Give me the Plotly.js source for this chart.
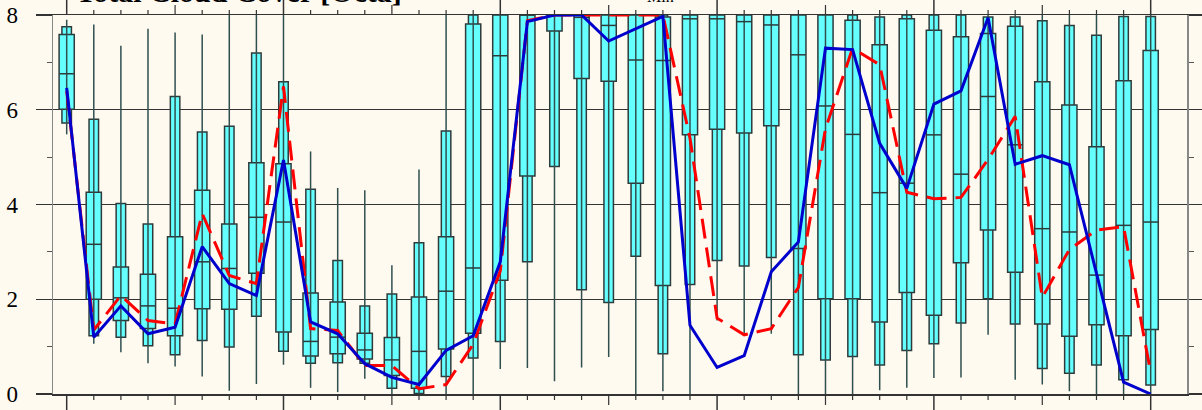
<!DOCTYPE html>
<html>
<head>
<meta charset="utf-8">
<script src="https://cdn.plot.ly/plotly-3.0.1.min.js"></script>
<style>html,body{margin:0;padding:0;background:#FFFAF0;}#chart{width:1202px;height:410px;}</style>
</head>
<body>
<div id="chart"></div>
<script>
// 3-hourly steps (index 0..40)
const steps = Array.from({length: 41}, (_, i) => i);
const pMin = [5.48,1.06,0.88,0.65,0.58,0.37,0.07,0.21,0.62,0.13,0.04,0.32,0.00,0.00,0.00,0.00,0.53,0.55,0.27,0.56,0.78,0.00,0.06,0.00,1.55,1.23,1.27,0.00,0.00,0.00,0.08,0.13,0.34,0.35,1.25,0.30,0.20,0.06,0.00,0.00,0.00];
const p10  = [5.72,1.23,1.20,1.02,0.83,1.13,0.99,1.64,0.90,0.65,0.66,0.65,0.12,0.01,0.37,0.76,1.11,2.79,4.80,2.20,1.93,2.91,0.85,2.31,2.82,2.70,2.88,0.83,0.72,0.79,0.61,0.92,1.06,1.50,2.01,1.48,0.54,0.44,0.61,0.30,0.19];
const p25  = [6.01,2.00,1.55,1.38,1.23,1.80,1.79,2.55,1.31,0.80,0.85,0.74,0.39,0.12,0.95,1.28,2.40,4.60,7.66,6.66,6.60,4.45,2.29,5.47,5.59,5.51,5.66,3.07,2.01,2.01,1.52,2.14,1.66,2.77,3.46,2.57,1.48,1.22,1.46,1.23,1.36];
const p50  = [6.76,3.16,2.03,1.86,1.81,2.79,2.65,3.73,3.63,1.11,1.20,0.93,0.72,0.90,2.17,2.66,7.14,8.00,8.00,7.95,7.78,7.05,7.04,7.92,7.92,7.86,7.79,7.16,6.08,5.48,4.25,4.45,5.47,4.64,6.28,5.26,3.49,3.42,2.51,3.56,3.63];
const p75  = [7.59,4.26,2.68,2.53,3.32,4.30,3.59,4.88,4.86,2.13,1.94,1.28,1.19,2.05,3.32,7.81,8.00,8.00,8.00,8.00,8.00,8.00,7.96,8.00,8.00,8.00,8.00,8.00,8.00,7.89,7.37,7.92,7.68,7.54,7.61,7.76,6.59,6.10,5.22,6.61,7.25];
const p90  = [7.75,5.80,4.02,3.59,6.28,5.53,5.65,7.20,6.59,4.32,2.82,1.86,2.11,3.19,5.55,8.00,8.00,8.00,8.00,8.00,8.00,8.00,8.00,8.00,8.00,8.00,8.00,8.00,8.00,8.00,7.96,8.00,8.00,8.00,7.96,7.96,7.88,7.78,7.57,7.97,7.97];
const pMax = [7.90,7.80,7.35,7.71,7.63,7.59,8.00,8.00,8.00,5.12,4.35,4.30,2.72,4.74,8.00,8.00,8.00,8.00,8.00,8.00,8.00,8.00,8.00,8.00,8.00,8.00,8.00,8.00,8.00,8.00,8.00,8.00,8.00,8.00,8.00,8.00,8.00,8.00,8.00,8.00,8.00];
const blueLine = [6.46,1.20,1.86,1.27,1.41,3.11,2.33,2.08,4.94,1.52,1.27,0.64,0.35,0.20,0.92,1.23,2.79,7.86,8.00,8.00,7.45,7.71,7.97,1.45,0.56,0.81,2.58,3.21,7.30,7.27,5.29,4.34,6.12,6.40,7.94,4.85,5.03,4.84,2.55,0.25,0.00];
const redLine  = [6.40,1.35,2.08,1.55,1.48,3.81,2.50,2.33,6.49,1.38,1.34,0.60,0.60,0.11,0.20,1.05,2.60,7.88,8.00,8.00,8.00,8.00,8.00,5.40,1.60,1.25,1.38,2.25,5.60,7.30,6.95,4.26,4.12,4.15,4.95,5.86,2.04,3.05,3.46,3.53,0.45];
const yTicks = [0, 2, 4, 6, 8];
const yTickText = ['0', '2', '4', '6', '8'];
const titleText = 'Total Cloud Cover [Octa]';
const subText = 'Min';

const NARROW = 0.35, WIDE = 0.56;
const cyan = '#66FFFF', edge = '#2E3B3B';

const wx = [], wy = [];
steps.forEach((s, i) => { wx.push(s, s, null); wy.push(pMin[i], pMax[i], null); });
const mx = [], my = [];
steps.forEach((s, i) => { mx.push(s - WIDE / 2, s + WIDE / 2, null); my.push(p50[i], p50[i], null); });

const traces = [
  {type: 'scatter', mode: 'lines', x: wx, y: wy, line: {color: '#2F4F4F', width: 1.5}, hoverinfo: 'skip'},
  {type: 'bar', x: steps, base: p10, y: steps.map((s, i) => p90[i] - p10[i]), width: NARROW,
   marker: {color: cyan, line: {color: edge, width: 1.5}}, hoverinfo: 'skip'},
  {type: 'bar', x: steps, base: p25, y: steps.map((s, i) => p75[i] - p25[i]), width: WIDE,
   marker: {color: cyan, line: {color: edge, width: 1.5}}, hoverinfo: 'skip'},
  {type: 'scatter', mode: 'lines', x: mx, y: my, line: {color: edge, width: 1.5}, hoverinfo: 'skip'},
  {type: 'scatter', mode: 'lines', x: steps, y: redLine, line: {color: '#FF0000', width: 3, dash: '20px,9px'}, cliponaxis: false},
  {type: 'scatter', mode: 'lines', x: steps, y: blueLine, line: {color: '#0000CD', width: 3}, cliponaxis: false}
];

// x-axis tick marks (bottom and top), three lengths: every step, every 12 h, every 24 h
const tickLen = (s, side) => s % 8 === 0 ? (side === 'bottom' ? 17 : 15) : s % 8 === 4 ? (side === 'bottom' ? 11 : 10) : (side === 'bottom' ? 6 : 5);
const tickShapes = [];
steps.forEach(s => {
  const w = s % 8 === 0 ? 1.5 : 1.2;
  tickShapes.push({type: 'line', xref: 'x', yref: 'paper', ysizemode: 'pixel', yanchor: 0,
    x0: s, x1: s, y0: 0, y1: -tickLen(s, 'bottom'), line: {color: '#333', width: w}});
  tickShapes.push({type: 'line', xref: 'x', yref: 'paper', ysizemode: 'pixel', yanchor: 1,
    x0: s, x1: s, y0: 0, y1: tickLen(s, 'top'), line: {color: '#333', width: w}});
});

const layout = {
  width: 1202, height: 410,
  margin: {l: 53, r: 15, t: 15, b: 16, pad: 0},
  paper_bgcolor: '#FFFAF0', plot_bgcolor: '#FFFAF0',
  showlegend: false, barmode: 'overlay',
  xaxis: {
    range: [-0.505, 41.34], showgrid: false, zeroline: false,
    showline: true, linecolor: '#333', linewidth: 1.5, mirror: true,
    ticks: '', showticklabels: false
  },
  yaxis: {
    range: [0, 8], zeroline: false, showgrid: true, gridcolor: '#333', gridwidth: 1.1,
    showline: true, linecolor: '#888', linewidth: 1.5, mirror: 'ticks',
    ticks: 'outside', tickmode: 'array', tickvals: yTicks, ticktext: yTickText,
    ticklen: 16, tickwidth: 1.1, tickcolor: '#333', ticklabelstandoff: 13,
    tickfont: {family: 'Liberation Serif, serif', size: 23, color: '#000'},
    minor: {tickmode: 'array', tickvals: [1, 3, 5, 7], ticks: 'outside', ticklen: 5, tickwidth: 1, tickcolor: '#555', showgrid: false}
  },
  shapes: tickShapes,
  annotations: [
    {text: '<b>' + titleText + '</b>', xref: 'paper', yref: 'paper', x: (239 - 53) / 1134, y: 1.063,
     xanchor: 'center', yanchor: 'middle', showarrow: false,
     font: {family: 'Liberation Serif, serif', size: 30, color: '#000'}},
    {text: subText, xref: 'paper', yref: 'paper', x: (660 - 53) / 1134, y: 1.05,
     xanchor: 'center', yanchor: 'middle', showarrow: false,
     font: {family: 'Liberation Serif, serif', size: 16, color: '#000'}}
  ]
};

Plotly.newPlot('chart', traces, layout, {staticPlot: true, displayModeBar: false});
</script>
</body>
</html>
